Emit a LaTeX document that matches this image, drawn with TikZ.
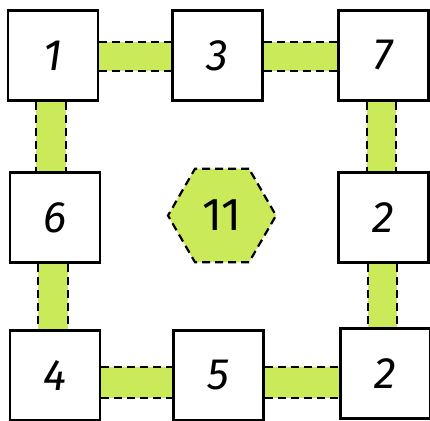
\documentclass[tikz,border=0pt]{standalone}
\usepackage{fontspec}
\setmainfont{Fira Sans}
\usetikzlibrary{shapes.geometric,calc}
\definecolor{lime}{RGB}{202,234,90}
\tikzset{
  box/.style={draw=black, line width=2.4pt, fill=white, minimum width=90pt, minimum height=90pt, inner sep=0pt,
    font=\fontsize{44}{44}\selectfont\itshape},
  dashedge/.style={draw=black, line width=2.2pt, dash pattern=on 8pt off 5pt},
  band/.style={fill=lime},
  hexnode/.style={regular polygon, regular polygon sides=6, minimum size=108pt, inner sep=0pt,
    fill=lime, draw=black, line width=2.2pt, dash pattern=on 8pt off 5pt,
    font=\fontsize{46}{46}\selectfont}
}
\begin{document}
\begin{tikzpicture}[x=1pt,y=-1pt]
\useasboundingbox (0,0) rectangle (430,420);
\clip (0,0) rectangle (430,420);
% box coordinates
\coordinate (c1) at (53,55.5);
\coordinate (c3) at (217.5,55.5);
\coordinate (c7) at (383.5,55.5);
\coordinate (c6) at (55,217.5);
\coordinate (c2a) at (383.5,217.5);
\coordinate (c4) at (55,375.5);
\coordinate (c5) at (218.5,375.5);
\coordinate (c2b) at (385.5,373.5);
% nodes (placed first to get anchors, drawn on top later)
\path (c1) node[box, draw=none, fill=none] (b1) {}
      (c3) node[box, draw=none, fill=none] (b3) {}
      (c7) node[box, draw=none, fill=none] (b7) {}
      (c6) node[box, draw=none, fill=none] (b6) {}
      (c2a) node[box, draw=none, fill=none] (b2a) {}
      (c4) node[box, draw=none, fill=none] (b4) {}
      (c5) node[box, draw=none, fill=none] (b5) {}
      (c2b) node[box, draw=none, fill=none] (b2b) {};
% horizontal bands
\foreach \a/\b/\t/\u in {b1/b3/42/71, b3/b7/42/71, b4/b5/367/398, b5/b2b/367/398}{
  \fill[band] (\a.east |- 0,\t) rectangle (\b.west |- 0,\u);
  \draw[dashedge] (\a.east |- 0,\t) -- (\b.west |- 0,\t);
  \draw[dashedge] (\a.east |- 0,\u) -- (\b.west |- 0,\u);
}
% vertical bands
\foreach \a/\b/\l/\r in {b1/b6/36/66, b6/b4/38/68, b7/b2a/367/396, b2a/b2b/368/397}{
  \fill[band] (\a.south -| \l,0) rectangle (\b.north -| \r,0);
  \draw[dashedge] (\a.south -| \l,0) -- (\b.north -| \l,0);
  \draw[dashedge] (\a.south -| \r,0) -- (\b.north -| \r,0);
}
% boxes
\node[box] at (c1) {1};
\node[box] at (c3) {3};
\node[box] at (c7) {7};
\node[box] at (c6) {6};
\node[box] at (c2a) {2};
\node[box] at (c4) {4};
\node[box] at (c5) {5};
\node[box] at (c2b) {2};
% hexagon
\node[hexnode] (hex) at (222,215.5) {11};
\end{tikzpicture}
\end{document}
